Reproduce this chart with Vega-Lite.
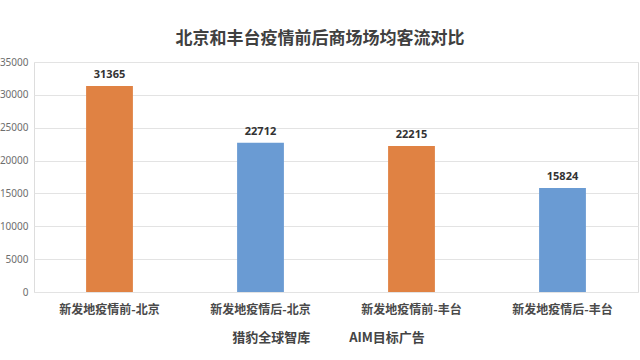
{
  "$schema": "https://vega.github.io/schema/vega-lite/v6.json",
  "width": 604,
  "height": 230,
  "autosize": {"type": "none"},
  "padding": {"left": 34, "top": 62, "right": 2, "bottom": 68},
  "background": "white",
  "title": {
    "text": "北京和丰台疫情前后商场场均客流对比",
    "font": "Noto Sans CJK SC",
    "fontSize": 17,
    "fontWeight": "bold",
    "color": "#404040",
    "anchor": "middle",
    "frame": "group",
    "dx": -16,
    "offset": 9
  },
  "data": {
    "values": [
      {"category": "新发地疫情前-北京", "value": 31365, "phase": "前"},
      {"category": "新发地疫情后-北京", "value": 22712, "phase": "后"},
      {"category": "新发地疫情前-丰台", "value": 22215, "phase": "前"},
      {"category": "新发地疫情后-丰台", "value": 15824, "phase": "后"}
    ]
  },
  "encoding": {
    "x": {
      "field": "category",
      "type": "nominal",
      "sort": null,
      "scale": {"paddingInner": 0.69, "paddingOuter": 0.345},
      "axis": {
        "title": "猎豹全球智库　　　AIM目标广告",
        "titleFont": "Noto Sans CJK SC",
        "titleFontSize": 13,
        "titleFontWeight": "bold",
        "titleColor": "#444444",
        "titlePadding": 16,
        "titleX": 294,
        "labelAngle": 0,
        "labelFont": "Noto Sans CJK SC",
        "labelFontSize": 12,
        "labelFontWeight": "bold",
        "labelColor": "#4A4A4A",
        "labelPadding": 12,
        "ticks": false,
        "domain": false,
        "grid": false
      }
    },
    "y": {
      "field": "value",
      "type": "quantitative",
      "scale": {"domain": [0, 35000], "nice": false},
      "axis": {
        "title": null,
        "values": [0, 5000, 10000, 15000, 20000, 25000, 30000, 35000],
        "format": "d",
        "labelFont": "Noto Sans",
        "labelFontSize": 10,
        "labelColor": "#6E6E6E",
        "labelPadding": 6,
        "ticks": false,
        "domain": false,
        "gridColor": "#E3E3E3",
        "gridWidth": 1
      }
    }
  },
  "layer": [
    {
      "mark": {"type": "bar"},
      "encoding": {
        "color": {
          "field": "phase",
          "type": "nominal",
          "scale": {"domain": ["前", "后"], "range": ["#E08243", "#6A9BD3"]},
          "legend": null
        }
      }
    },
    {
      "mark": {
        "type": "text",
        "baseline": "bottom",
        "dy": -6,
        "font": "Noto Sans",
        "fontSize": 11,
        "fontWeight": "bold",
        "color": "#333333"
      },
      "encoding": {
        "text": {"field": "value", "type": "quantitative", "format": "d"}
      }
    }
  ]
}
